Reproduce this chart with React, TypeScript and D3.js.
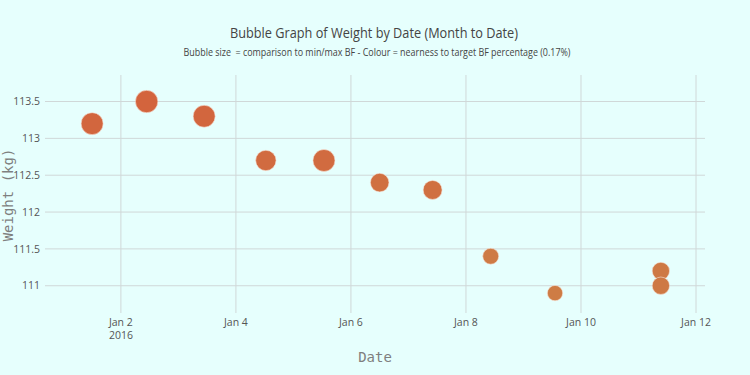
import * as d3 from "d3";
import React from "react";

// readings taken by date/time, Jan 2016
const readDates = [
  "2016-01-01T12:00",
  "2016-01-02T10:45",
  "2016-01-03T10:45",
  "2016-01-04T12:30",
  "2016-01-05T12:45",
  "2016-01-06T12:00",
  "2016-01-07T10:05",
  "2016-01-08T10:20",
  "2016-01-09T13:10",
  "2016-01-11T09:20",
  "2016-01-11T09:20",
];
const weights = [113.2, 113.5, 113.3, 112.7, 112.7, 112.4, 112.3, 111.4, 110.9, 111.2, 111.0];
// bubble size = comparison to min/max BF
const bfSize = [11, 11.2, 11, 10.2, 11, 9.3, 9.5, 8, 7.7, 8.7, 8.7];
// colour = nearness to target BF
const bfNear = [0.1, 0.05, 0.12, 0.3, 0.3, 0.45, 0.45, 0.85, 0.9, 0.8, 0.8];

const yTicks = [111, 111.5, 112, 112.5, 113, 113.5];
const xTickDays = [2, 4, 6, 8, 10, 12];

const W = 750;
const H = 375;
const plot = { left: 45, right: 705, top: 75, bottom: 313 };

const parse = d3.timeParse("%Y-%m-%dT%H:%M");

export default function App() {
  const x = d3
    .scaleTime()
    .domain([new Date(2015, 11, 31, 16, 20), new Date(2016, 0, 12, 3, 45)])
    .range([plot.left, plot.right]);
  const y = d3.scaleLinear().domain([110.63, 113.86]).range([plot.bottom, plot.top]);
  const color = d3
    .scaleLinear<string>()
    .domain([0, 1])
    .range(["#d3633d", "#cd7f46"]);

  const points = readDates.map((d, i) => ({
    date: parse(d) as Date,
    w: weights[i],
    r: bfSize[i],
    c: bfNear[i],
  }));

  const fmtTick = d3.timeFormat("%b %-d");

  return (
    <svg
      width={W}
      height={H}
      style={{ position: "absolute", left: 0, top: 0, background: "#e6fffd" }}
      fontFamily="'Open Sans', sans-serif"
    >
      <rect width={W} height={H} fill="#e6fffd" />
      <g>
        {xTickDays.map((d) => {
          const xv = x(new Date(2016, 0, d));
          return (
            <line key={"gx" + d} x1={xv} x2={xv} y1={plot.top} y2={plot.bottom} stroke="#d0d8d8" strokeWidth={1} />
          );
        })}
        {yTicks.map((t) => (
          <line key={"gy" + t} x1={plot.left} x2={plot.right} y1={y(t)} y2={y(t)} stroke="#d0d8d8" strokeWidth={1} />
        ))}
      </g>
      <g fill="#555" fontSize={10.5}>
        {yTicks.map((t) => (
          <text key={"ty" + t} x={40} y={y(t)} dy="0.35em" textAnchor="end">
            {String(t)}
          </text>
        ))}
        {xTickDays.map((d, i) => {
          const dt = new Date(2016, 0, d);
          return (
            <text key={"tx" + d} x={x(dt)} y={326} textAnchor="middle">
              {fmtTick(dt)}
              {i === 0 && (
                <tspan x={x(dt)} dy={12.5}>
                  {d3.timeFormat("%Y")(dt)}
                </tspan>
              )}
            </text>
          );
        })}
      </g>
      <g>
        {points.map((p, i) => (
          <circle
            key={i}
            cx={x(p.date)}
            cy={y(p.w)}
            r={p.r}
            fill={color(p.c)}
            stroke="#f6e6dc"
            strokeWidth={0.6}
          />
        ))}
      </g>
      <text x={374} y={38} textAnchor="middle" fontSize={15} fill="#444" textLength={288} lengthAdjust="spacingAndGlyphs">
        Bubble Graph of Weight by Date (Month to Date)
      </text>
      <text
        x={377}
        y={56}
        textAnchor="middle"
        fontSize={10}
        fill="#444"
        textLength={387}
        lengthAdjust="spacingAndGlyphs"
        style={{ whiteSpace: "pre" }}
      >
        {"Bubble size  = comparison to min/max BF - Colour = nearness to target BF percentage (0.17%)"}
      </text>
      <text x={375} y={362} textAnchor="middle" fontSize={14} fill="#7f7f7f" fontFamily="'DejaVu Sans Mono', monospace">
        Date
      </text>
      <text
        transform="translate(13,195) rotate(-90)"
        textAnchor="middle"
        fontSize={14}
        fill="#7f7f7f"
        fontFamily="'DejaVu Sans Mono', monospace"
      >
        Weight (kg)
      </text>
    </svg>
  );
}
